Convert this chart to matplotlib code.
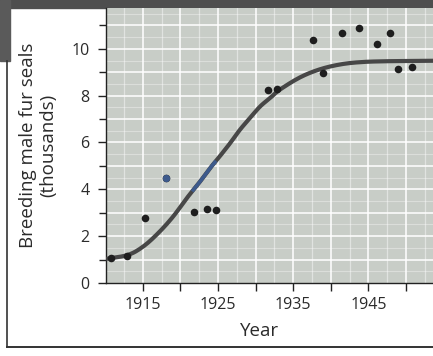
import numpy as np
import matplotlib.pyplot as plt
from matplotlib.patches import Rectangle
from matplotlib.lines import Line2D

# === DATOS ===
obs_years = [1910.8, 1912.9, 1915.3, 1918.1, 1921.8, 1923.5, 1924.7, 1931.6, 1932.9,
             1937.6, 1938.9, 1941.5, 1943.8, 1946.1, 1947.9, 1949.0, 1950.8]
obs_seals = [1.07, 1.15, 2.77, 4.48, 3.05, 3.15, 3.12, 8.25, 8.28,
             10.36, 8.96, 10.66, 10.9, 10.21, 10.67, 9.13, 9.22]

curve_years = [1910.1, 1913.0, 1915.0, 1917.0, 1919.0, 1921.0, 1922.6, 1924.1, 1925.2,
               1926.6, 1927.9, 1929.2, 1930.6, 1931.9, 1933.2, 1935.9, 1938.5, 1941.2,
               1943.9, 1947.4, 1953.6]
curve_seals = [1.03, 1.20, 1.55, 2.12, 2.83, 3.69, 4.33, 4.97, 5.40,
               5.97, 6.54, 7.03, 7.54, 7.89, 8.25, 8.78, 9.12, 9.33,
               9.43, 9.47, 9.49]

x_ticks = [1915, 1920, 1925, 1930, 1935, 1940, 1945, 1950]
x_labels = ['1915', '', '1925', '', '1935', '', '1945', '']
y_ticks = [0, 2, 4, 6, 8, 10]
y_minor = [1, 3, 5, 7, 9, 11]


# curva suave a través de los puntos leídos (Catmull-Rom, solo para dibujar)
def smooth(xs, ys, n=12):
    p = np.column_stack([xs, ys]).astype(float)
    p = np.vstack([2 * p[0] - p[1], p, 2 * p[-1] - p[-2]])
    out = []
    t = np.linspace(0, 1, n, endpoint=False)[:, None]
    for i in range(1, len(p) - 2):
        p0, p1, p2, p3 = p[i - 1], p[i], p[i + 1], p[i + 2]
        seg = 0.5 * ((2 * p1) + (-p0 + p2) * t + (2 * p0 - 5 * p1 + 4 * p2 - p3) * t ** 2
                     + (-p0 + 3 * p1 - 3 * p2 + p3) * t ** 3)
        out.append(seg)
    out.append(p[-2][None, :])
    out = np.vstack(out)
    return out[:, 0], out[:, 1]


# === ESTILO ===
plt.rcParams['font.family'] = ['Open Sans', 'DejaVu Sans']
BG = '#c8cdc7'
TXT = '#2b2b2b'

fig = plt.figure(figsize=(4.33, 3.56), dpi=100)
fig.patch.set_facecolor('white')
ax = fig.add_axes([0.245, 0.205, 0.755, 0.773])
ax.set_facecolor(BG)
ax.set_xlim(1910.1, 1953.6)
ax.set_ylim(0, 11.75)

# rejilla blanca (fuerte cada 5 años / cada unidad, tenue a la mitad)
for gx in np.arange(1915, 1954, 5):
    ax.axvline(gx, color='white', lw=1.3, alpha=0.85, zorder=0.5)
for gx in np.arange(1912.5, 1954, 5):
    ax.axvline(gx, color='white', lw=0.9, alpha=0.45, zorder=0.5)
for gy in np.arange(1, 12, 1):
    ax.axhline(gy, color='white', lw=1.3, alpha=0.85, zorder=0.5)
for gy in np.arange(0.5, 12, 1):
    ax.axhline(gy, color='white', lw=0.8, alpha=0.35, zorder=0.5)

ax.set_xticks(x_ticks)
ax.set_xticklabels(x_labels)
ax.set_yticks(y_ticks)
ax.set_yticks(y_minor, minor=True)

# ejes
for s in ['top', 'right']:
    ax.spines[s].set_visible(False)
ax.spines['left'].set_color('#222222')
ax.spines['bottom'].set_color('#222222')
ax.spines['left'].set_linewidth(1.0)
ax.spines['bottom'].set_linewidth(1.0)
ax.tick_params(axis='both', which='both', length=6, width=1.0, color='#222222',
               labelsize=11.5, labelcolor=TXT)
ax.tick_params(axis='y', which='minor', length=5)
ax.tick_params(axis='x', pad=4)
ax.tick_params(axis='y', pad=6)

# curva y puntos
cx, cy = smooth(curve_years, curve_seals)
ax.plot(cx, cy, color='#474747', lw=3.0, solid_capstyle='butt', zorder=3)
mask = (cx >= 1921.6) & (cx <= 1924.6)
ax.plot(cx[mask], cy[mask], color='#3d5a8c', lw=2.6, zorder=4)
ax.scatter(obs_years, obs_seals, s=30, color='#1e1e1e', zorder=5, linewidths=0)
ax.scatter([obs_years[3]], [obs_seals[3]], s=28, color='#3d5a8c', zorder=6, linewidths=0)

ax.set_ylabel('Breeding male fur seals\n(thousands)', fontsize=13.5, color=TXT,
              linespacing=1.15)
ax.yaxis.set_label_coords(-0.15, 0.5)
ax.set_xlabel('Year', fontsize=13.5, color=TXT)
ax.xaxis.set_label_coords(0.47, -0.14)

# marco escaneado
fig.add_artist(Rectangle((0, 0.978), 1, 0.022, transform=fig.transFigure,
                         color='#4e4e4e', zorder=0))
fig.add_artist(Rectangle((0, 0.83), 0.022, 0.17, transform=fig.transFigure,
                         color='#5a5a5a', zorder=0))
fig.add_artist(Line2D([0.016, 1.0], [0.025, 0.025], transform=fig.transFigure,
                      color='#333333', lw=1.4))
fig.add_artist(Line2D([0.016, 0.016], [0.025, 0.83], transform=fig.transFigure,
                      color='#333333', lw=1.2))

fig.savefig('out.png', dpi=100)
